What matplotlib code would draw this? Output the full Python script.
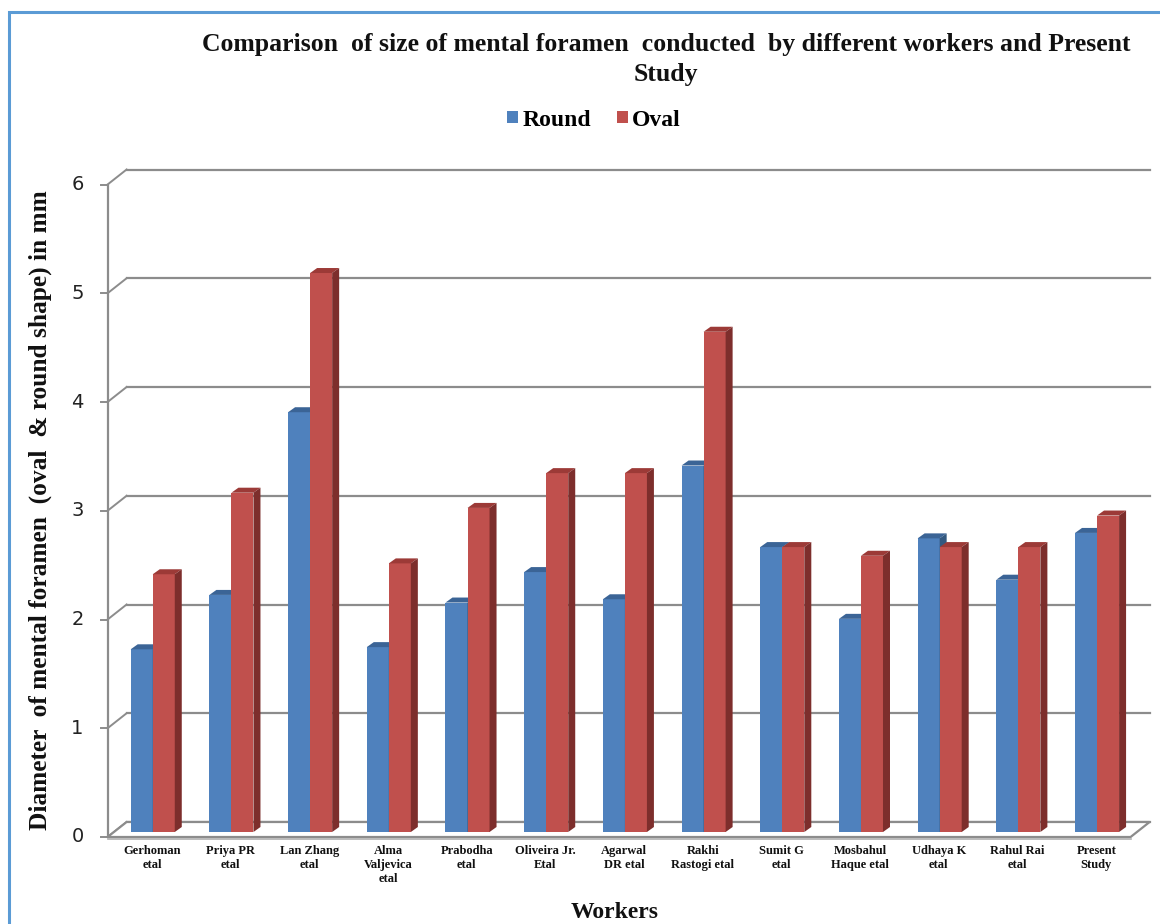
import matplotlib
matplotlib.use("Agg")
import matplotlib.pyplot as plt
from matplotlib.patches import Polygon, Rectangle, Patch

# ---- data -------------------------------------------------------------
workers = [
    "Gerhoman\netal", "Priya PR\netal", "Lan Zhang\netal", "Alma\nValjevica\netal",
    "Prabodha\netal", "Oliveira Jr.\nEtal", "Agarwal\nDR etal", "Rakhi\nRastogi etal",
    "Sumit G\netal", "Mosbahul\nHaque etal", "Udhaya K\netal", "Rahul Rai\netal",
    "Present\nStudy",
]
round_mm = [1.68, 2.18, 3.86, 1.70, 2.11, 2.39, 2.14, 3.37, 2.62, 1.96, 2.70, 2.32, 2.75]
oval_mm = [2.37, 3.12, 5.14, 2.47, 2.98, 3.30, 3.30, 4.60, 2.62, 2.54, 2.62, 2.62, 2.91]
y_ticks = [0, 1, 2, 3, 4, 5, 6]

title_lines = ["Comparison  of size of mental foramen  conducted  by different workers and Present",
               "Study"]
y_title = "Diameter  of mental foramen  (oval  & round shape) in mm"
x_title = "Workers"
series_names = ["Round", "Oval"]

# ---- figure geometry (pixels) -----------------------------------------
W, H = 1160, 924
fig = plt.figure(figsize=(W / 100, H / 100), dpi=100)
fig.patch.set_facecolor("white")

n = len(workers)
ax_left, ax_bottom_from_top, ax_w = 112.6, 832, 1023
ax_h = 652.5
ax = fig.add_axes([ax_left / W, (H - ax_bottom_from_top) / H, ax_w / W, ax_h / H])
ax.set_xlim(-0.5, n - 0.5)
ax.set_ylim(0, 6)
ax.axis("off")

XU = ax_w / n          # pixels per category
YU = ax_h / 6.0        # pixels per mm


def off(x, y, dxp, dyp):
    """Shift a data point by a pixel offset (for the pseudo-3D depth)."""
    return x + dxp / XU, y + dyp / YU


FRONT = (-5, -5)
BACK = (14, 10)
grid_col = "#8c8c8c"
serif = ["Liberation Serif", "DejaVu Serif"]

# back wall gridlines, side connectors and front axis
for v in y_ticks:
    p0 = off(-0.5, v, *BACK)
    p1 = off(n - 0.5, v, *BACK)
    ax.plot([p0[0], p1[0]], [p0[1], p1[1]], color=grid_col, lw=1.6, clip_on=False, zorder=1)
    f = off(-0.5, v, *FRONT)
    ax.plot([f[0], p0[0]], [f[1], p0[1]], color=grid_col, lw=1.4, clip_on=False, zorder=1)
    t = off(-0.5, v, FRONT[0] - 7, FRONT[1])
    ax.plot([t[0], f[0]], [t[1], f[1]], color=grid_col, lw=1.4, clip_on=False, zorder=1)
    lab = off(-0.5, v, FRONT[0] - 24, FRONT[1])
    ax.text(lab[0], lab[1], str(v), ha="right", va="center", fontsize=14,
            color="#222222", family="DejaVu Sans")

fa = off(-0.5, 0, *FRONT)
fb = off(-0.5, 6, *FRONT)
ax.plot([fa[0], fb[0]], [fa[1], fb[1]], color=grid_col, lw=1.6, clip_on=False, zorder=1)

# floor
fl = [off(-0.5, 0, *FRONT), off(n - 0.5, 0, *FRONT), off(n - 0.5, 0, *BACK), off(-0.5, 0, *BACK)]
ax.add_patch(Polygon(fl, closed=True, facecolor="white", edgecolor=grid_col, lw=1.6,
                     clip_on=False, zorder=1.5))
fr0 = off(-0.5, 0, FRONT[0], FRONT[1] - 2)
fr1 = off(n - 0.5, 0, FRONT[0], FRONT[1] - 2)
ax.plot([fr0[0], fr1[0]], [fr0[1], fr1[1]], color="#b0b0b0", lw=1.2, clip_on=False, zorder=1.5)

# bars with top and side faces
bw = 0.28
DX, DY = 7, 5
styles = [
    dict(front="#4F81BD", top="#3B6496", side="#33587F", shift=-0.27),
    dict(front="#C0504D", top="#9C3A37", side="#7D2E2C", shift=0.01),
]
z = 2
for i in range(n):
    for vals, st in ((round_mm, styles[0]), (oval_mm, styles[1])):
        v = vals[i]
        x0 = i + st["shift"]
        x1 = x0 + bw
        ax.bar(x0, v, width=bw, align="edge", color=st["front"], zorder=z, linewidth=0)
        top = [(x0, v), (x1, v), off(x1, v, DX, DY), off(x0, v, DX, DY)]
        ax.add_patch(Polygon(top, closed=True, facecolor=st["top"], lw=0, zorder=z))
        side = [(x1, 0), (x1, v), off(x1, v, DX, DY), off(x1, 0, DX, DY)]
        ax.add_patch(Polygon(side, closed=True, facecolor=st["side"], lw=0, zorder=z))
        z += 0.01

# category labels
for i, name in enumerate(workers):
    p = off(i, 0, 0, -13)
    ax.text(p[0], p[1], name, ha="center", va="top", fontsize=9, fontweight="bold",
            family=serif, linespacing=1.2, color="#111111")

# titles
fig.text(666 / W, 1 - 44 / H, title_lines[0], ha="center", va="center", fontsize=18.5,
         fontweight="bold", family=serif, color="#111111")
fig.text(666 / W, 1 - 75 / H, title_lines[1], ha="center", va="center", fontsize=18.5,
         fontweight="bold", family=serif, color="#111111")
fig.text(40 / W, 1 - 510 / H, y_title, ha="center", va="center", rotation=90, fontsize=18.3,
         fontweight="bold", family=serif, color="#111111")
fig.text(615 / W, 1 - 912 / H, x_title, ha="center", va="center", fontsize=17,
         fontweight="bold", family=serif, color="#111111")

# legend
handles = [Patch(facecolor=styles[0]["front"]), Patch(facecolor=styles[1]["front"])]
fig.legend(handles, series_names, loc="center", bbox_to_anchor=(594 / W, 1 - 120 / H),
           ncol=2, frameon=False, handlelength=0.45, handleheight=0.45, handletextpad=0.2,
           columnspacing=1.1, prop=dict(family=serif, weight="bold", size=17))

# chart frame
fig.add_artist(Rectangle((9 / W, -0.2), 1.2, 1.2 - 12 / H, transform=fig.transFigure,
                         fill=False, edgecolor="#5B9BD5", lw=2.2))

fig.savefig("out.png", dpi=100)
